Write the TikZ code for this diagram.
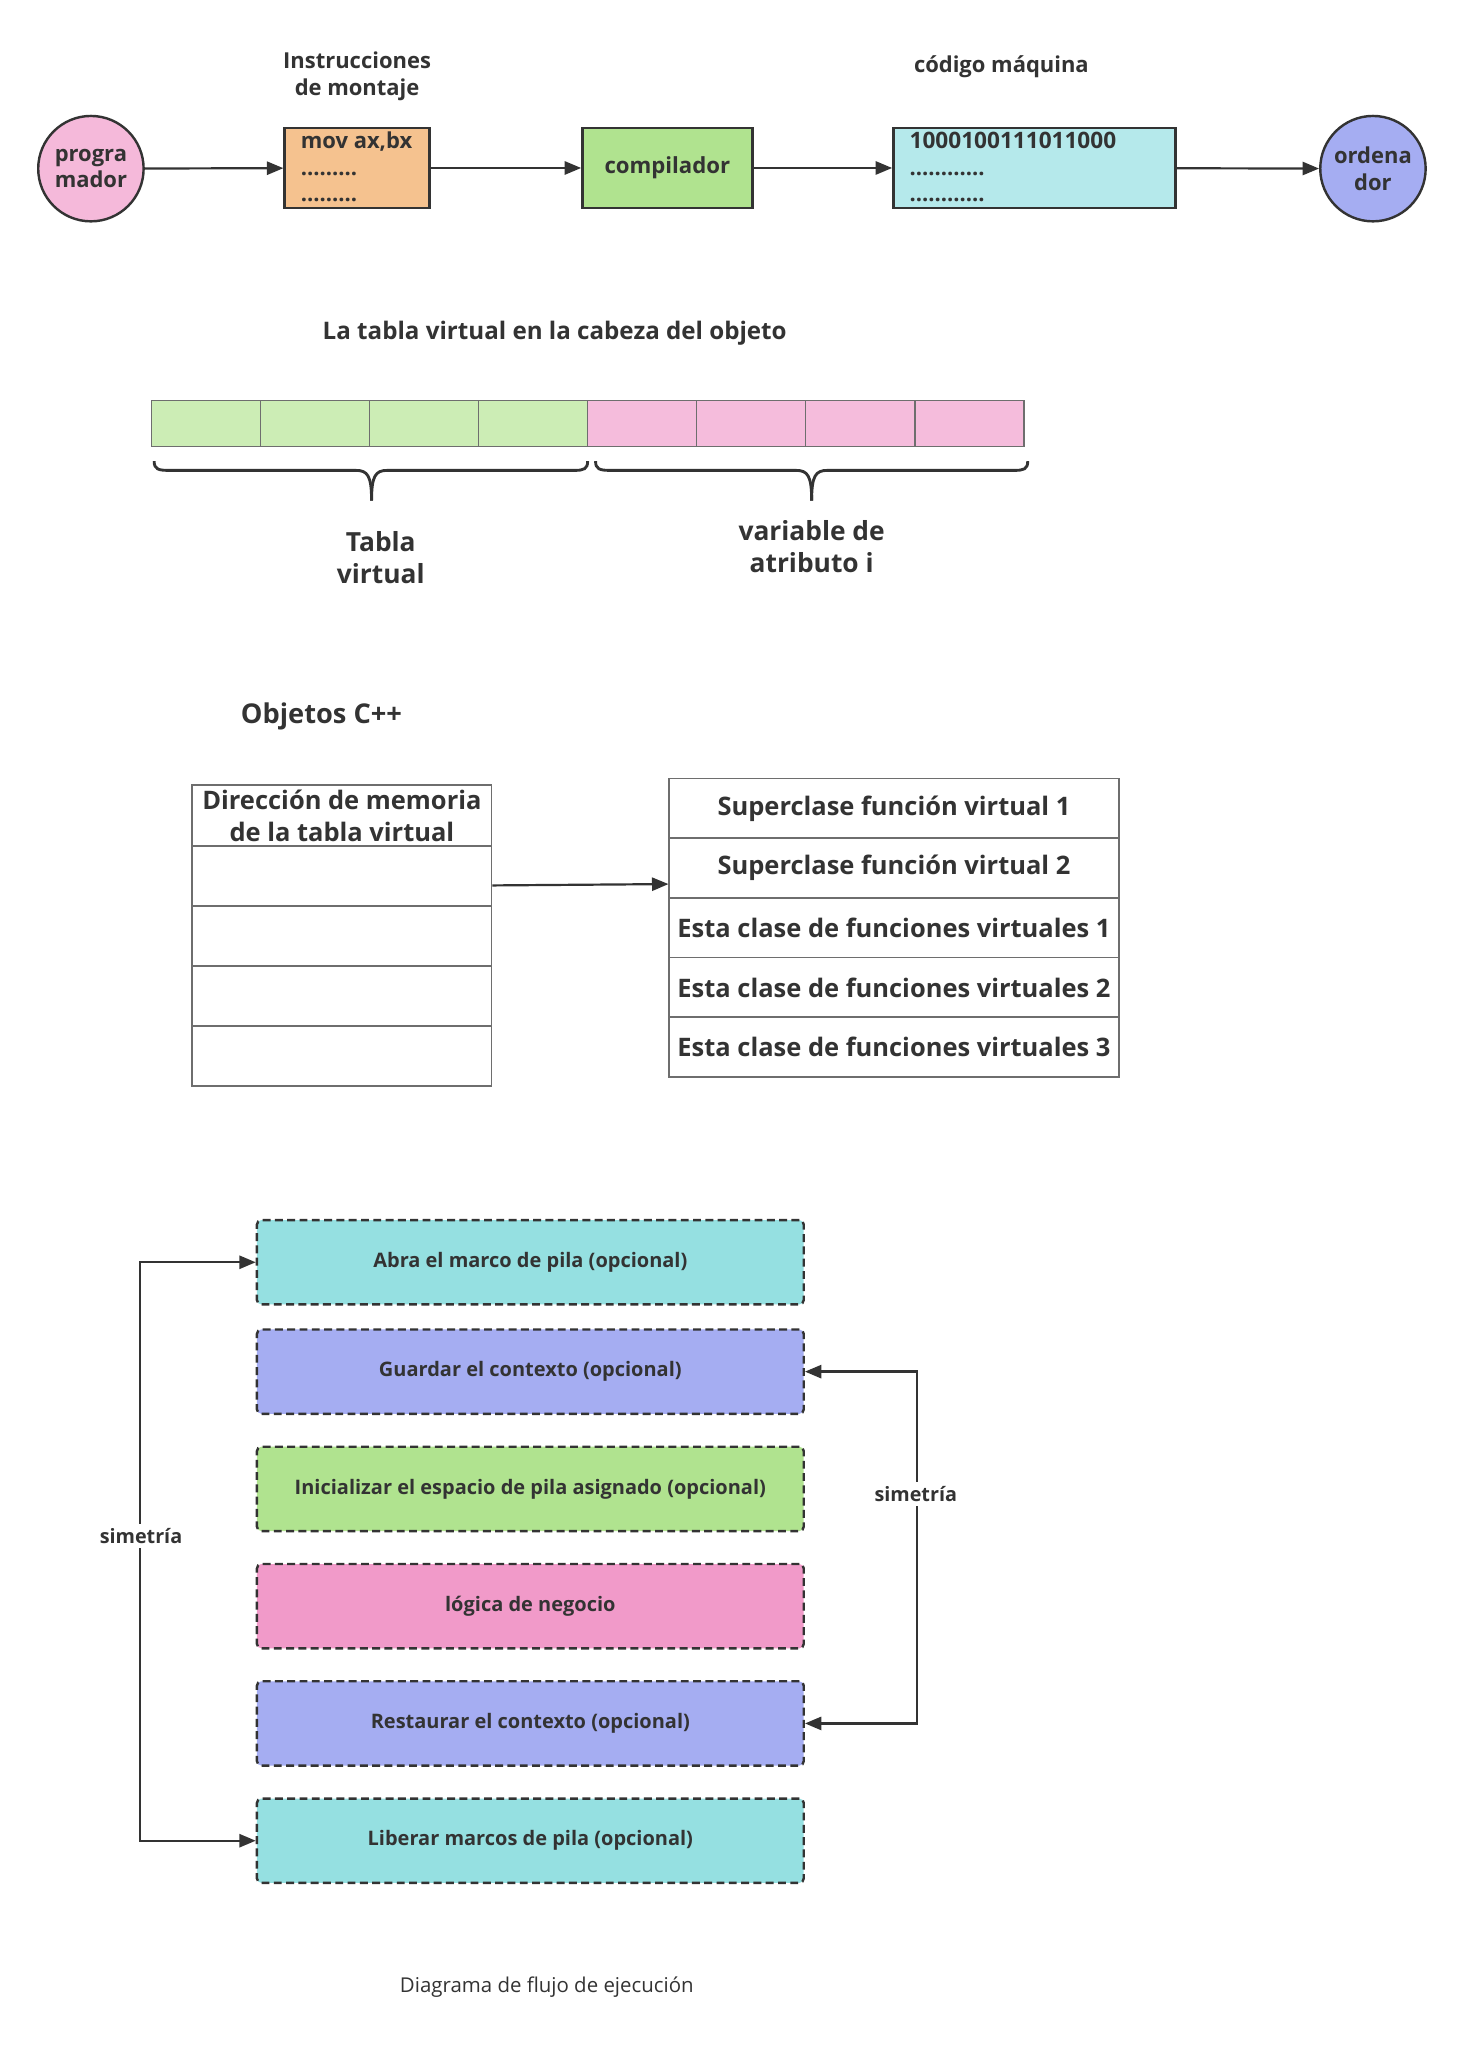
\documentclass[tikz,border=0pt]{standalone}
\usepackage{fontspec}
\setmainfont{Open Sans}
\usetikzlibrary{arrows.meta,calc}
\definecolor{ink}{HTML}{333333}
\definecolor{grayline}{HTML}{6E6E6E}
\definecolor{cpink}{HTML}{F5B9DA}
\definecolor{corange}{HTML}{F5C28F}
\definecolor{cgreen}{HTML}{B0E38F}
\definecolor{ccyanl}{HTML}{B5E9EB}
\definecolor{cblue}{HTML}{A5ADF2}
\definecolor{bargreen}{HTML}{CCEDB5}
\definecolor{barpink}{HTML}{F5BCDC}
\definecolor{fcyan}{HTML}{95E0E1}
\definecolor{fpink}{HTML}{F19AC9}
\begin{document}
\begin{tikzpicture}[x=0.6pt,y=-0.6pt,
  circ/.style={circle, draw=ink, line width=1.1pt, minimum size=48pt, inner sep=0pt, align=center, text=ink, font=\bfseries\fontsize{10}{12}\selectfont},
  topbox/.style={draw=ink, line width=1.1pt, minimum height=36.6pt, inner sep=0pt, text=ink, font=\bfseries\fontsize{10.1}{12}\selectfont},
  intext/.style={anchor=base west, inner sep=0pt, text=ink, font=\bfseries\fontsize{10}{12}\selectfont},
  lbl/.style={align=center, inner sep=0pt, text=ink, font=\bfseries\fontsize{10}{12}\selectfont},
  cell/.style={draw=grayline, line width=0.7pt, minimum width=49.65pt, minimum height=21pt, inner sep=0pt},
  tcell/.style={draw=grayline, line width=0.8pt, inner sep=0pt, align=center, text=ink, font=\bfseries\fontsize{11.6}{14.4}\selectfont},
  flow/.style={draw=ink, dash pattern=on 3.6pt off 2pt, rounded corners=2pt, line width=1.1pt, minimum width=249pt, minimum height=38.4pt, inner sep=0pt, text=ink, font=\bfseries\fontsize{9.1}{11}\selectfont},
  arr/.style={draw=ink, line width=1pt, -{Triangle[length=7.5pt,width=6pt]}},
  arr2/.style={draw=ink, line width=1.1pt, {Triangle[length=7.5pt,width=6pt]}-{Triangle[length=7.5pt,width=6pt]}},
  brc/.style={draw=ink, line width=1.3pt}
]
\fill[white] (0,0) rectangle (1110,1568);

% ---------- top row ----------
\node[circ, fill=cpink] (prog) at (69,128) {progra\\mador};
\node[topbox, fill=corange, minimum width=66pt] (asm) at (271,127.5) {};
\node[intext] (asm1) at (228,113) {mov ax,bx};
\node[intext] (asm2) at (228,133) {.........};
\node[intext] (asm3) at (228,153) {.........};
\node[topbox, fill=cgreen, minimum width=77.4pt] (comp) at (506.5,127.5) {\raisebox{-1pt}{compilador}};
\node[topbox, fill=ccyanl, minimum width=128.4pt] (mc) at (785,127.5) {};
\node[intext, font=\bfseries\fontsize{10.3}{12}\selectfont] (mc1) at (690,113) {1000100111011000};
\node[intext] (mc2) at (690,133) {............};
\node[intext] (mc3) at (690,153) {............};
\node[circ, fill=cblue] (pc) at (1042,128) {ordena\\dor};
\node[lbl] (lasm) at (271,58) {Instrucciones\\de montaje};
\node[lbl] (lmc) at (760,51) {código máquina};
\draw[arr] (prog) -- (asm);
\draw[arr] (asm) -- (comp);
\draw[arr] (comp) -- (mc);
\draw[arr] (mc) -- (pc);

% ---------- virtual table bar ----------
\node[lbl, font=\bfseries\fontsize{11}{13}\selectfont] (title) at (421,253) {La tabla virtual en la cabeza del objeto};
\foreach \i in {1,...,4} {
  \node[cell, fill=bargreen] (bar\i) at ({115+82.75*(\i-0.5)},321.5) {};
}
\foreach \i in {5,...,8} {
  \node[cell, fill=barpink] (bar\i) at ({115+82.75*(\i-0.5)},321.5) {};
}
% braces
\draw[brc] (117,350) .. controls (117,356) and (120,357) .. (128,357) -- (270,357) .. controls (279,357) and (282,361) .. (282,380);
\draw[brc] (282,380) .. controls (282,361) and (285,357) .. (294,357) -- (436,357) .. controls (443,357) and (446,356) .. (446,350);
\draw[brc] (452,350) .. controls (452,356) and (455,357) .. (463,357) -- (604,357) .. controls (613,357) and (616,361) .. (616,380);
\draw[brc] (616,380) .. controls (616,361) and (619,357) .. (628,357) -- (770,357) .. controls (777,357) and (780,356) .. (780,350);
\node[lbl, font=\bfseries\fontsize{12}{14.4}\selectfont] (ltv) at (289,423) {Tabla\\virtual};
\node[lbl, font=\bfseries\fontsize{12}{14.4}\selectfont] (lva) at (616,415) {variable de\\atributo i};

% ---------- C++ objects ----------
\node[lbl, font=\bfseries\fontsize{12.4}{14}\selectfont] (lobj) at (244,544) {Objetos C++};
\node[tcell, minimum width=136.2pt, minimum height=27.6pt] (lh) at (259.5,619) {Dirección de memoria\\de la tabla virtual};
\node[tcell, minimum width=136.2pt, minimum height=27.3pt] (lr1) at (259.5,665) {};
\node[tcell, minimum width=136.2pt, minimum height=27.3pt] (lr2) at (259.5,710.5) {};
\node[tcell, minimum width=136.2pt, minimum height=27.3pt] (lr3) at (259.5,756) {};
\node[tcell, minimum width=136.2pt, minimum height=27.3pt] (lr4) at (259.5,801.5) {};
\node[tcell, minimum width=204.6pt, minimum height=27.2pt] (rr1) at (678.5,613.5) {Superclase función virtual 1};
\node[tcell, minimum width=204.6pt, minimum height=27.2pt] (rr2) at (678.5,658.8) {Superclase función virtual 2};
\node[tcell, minimum width=204.6pt, minimum height=27.2pt] (rr3) at (678.5,704.1) {Esta clase de funciones virtuales 1};
\node[tcell, minimum width=204.6pt, minimum height=27.2pt] (rr4) at (678.5,749.4) {Esta clase de funciones virtuales 2};
\node[tcell, minimum width=204.6pt, minimum height=27.2pt] (rr5) at (678.5,794.7) {Esta clase de funciones virtuales 3};
\draw[arr] ([yshift=-4.2pt]lr1.east) -- ([yshift=-7.3pt]rr2.west);

% ---------- execution flow ----------
\node[flow, fill=fcyan] (f1) at (402.5,958) {Abra el marco de pila (opcional)};
\node[flow, fill=cblue] (f2) at (402.5,1041) {Guardar el contexto (opcional)};
\node[flow, fill=cgreen] (f3) at (402.5,1130) {Inicializar el espacio de pila asignado (opcional)};
\node[flow, fill=fpink] (f4) at (402.5,1219) {lógica de negocio};
\node[flow, fill=cblue] (f5) at (402.5,1308) {Restaurar el contexto (opcional)};
\node[flow, fill=fcyan] (f6) at (402.5,1397) {Liberar marcos de pila (opcional)};
\draw[arr2] (f6.west) -- ++(-88,0) coordinate (lc) |- (f1.west);
\draw[arr2] (f2.east) -- ++(85,0) coordinate (rc) |- (f5.east);
\node[lbl, fill=white, inner sep=2pt, font=\bfseries\fontsize{9}{11}\selectfont] (sym1) at (107,1166) {simetría};
\node[lbl, fill=white, inner sep=2pt, font=\bfseries\fontsize{9}{11}\selectfont] (sym2) at (695,1134) {simetría};
\node[lbl, font=\fontsize{9.3}{11}\selectfont] (cap) at (415,1508) {Diagrama de flujo de ejecución};
\end{tikzpicture}
\end{document}
